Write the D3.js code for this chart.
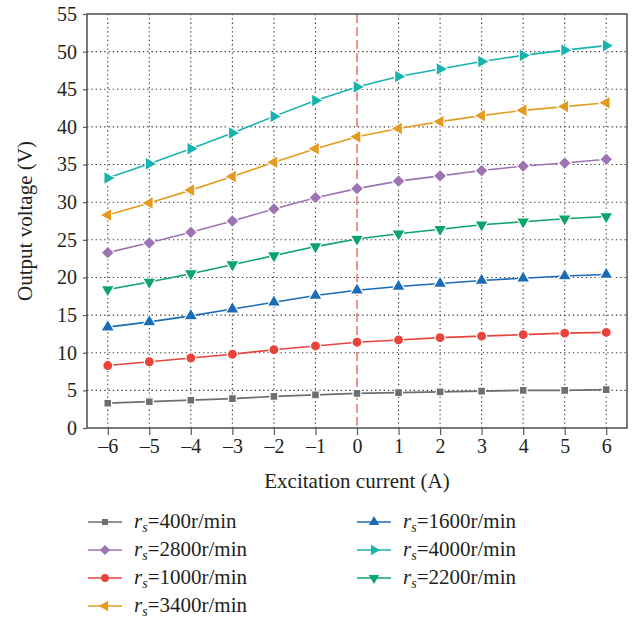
<!DOCTYPE html>
<html>
  <meta charset="utf-8" />
  <head>
    <script src="https://cdnjs.cloudflare.com/ajax/libs/d3/7.8.5/d3.min.js"></script>
    <style>
      body { margin: 0; background: #fff; }
    </style>
  </head>
  <body>
    <script>
    const current = [-6, -5, -4, -3, -2, -1, 0, 1, 2, 3, 4, 5, 6];
    const yTicks = [0, 5, 10, 15, 20, 25, 30, 35, 40, 45, 50, 55];

    const v400 = [3.3, 3.5, 3.7, 3.9, 4.2, 4.4, 4.6, 4.7, 4.8, 4.9, 5.0, 5.0, 5.1];
    const v1000 = [8.3, 8.8, 9.3, 9.8, 10.4, 10.9, 11.4, 11.7, 12.0, 12.2, 12.4, 12.6, 12.7];
    const v1600 = [13.4, 14.1, 14.9, 15.8, 16.7, 17.6, 18.3, 18.8, 19.2, 19.6, 19.9, 20.2, 20.4];
    const v2200 = [18.4, 19.4, 20.5, 21.7, 22.9, 24.1, 25.1, 25.8, 26.4, 27.0, 27.4, 27.8, 28.1];
    const v2800 = [23.3, 24.6, 26.0, 27.5, 29.1, 30.6, 31.8, 32.8, 33.5, 34.2, 34.8, 35.2, 35.7];
    const v3400 = [28.3, 29.9, 31.6, 33.4, 35.3, 37.1, 38.7, 39.8, 40.7, 41.5, 42.2, 42.7, 43.2];
    const v4000 = [33.2, 35.1, 37.1, 39.2, 41.4, 43.5, 45.3, 46.7, 47.7, 48.7, 49.5, 50.2, 50.8];

    // legend order follows the picture (two columns)
    const series = [
      { speed: "400", values: v400, color: "#6d6e71", symbol: d3.symbolSquare, size: 60, rot: 0 },
      { speed: "2800", values: v2800, color: "#9d73b2", symbol: d3.symbolDiamond2, size: 110, rot: 0 },
      { speed: "1000", values: v1000, color: "#e9433c", symbol: d3.symbolCircle, size: 80, rot: 0 },
      { speed: "3400", values: v3400, color: "#e49c20", symbol: d3.symbolTriangle, size: 80, rot: -90 },
      { speed: "1600", values: v1600, color: "#1b6cb7", symbol: d3.symbolTriangle, size: 80, rot: 0 },
      { speed: "4000", values: v4000, color: "#18b3ad", symbol: d3.symbolTriangle, size: 80, rot: 90 },
      { speed: "2200", values: v2200, color: "#0ca46b", symbol: d3.symbolTriangle, size: 80, rot: 180 },
    ];

    const FONT = "Liberation Serif";
    const width = 635, height = 620;
    const plot = { left: 87, right: 627, top: 14, bottom: 428 };

    const svg = d3.select("body").append("svg")
      .attr("width", width)
      .attr("height", height)
      .attr("font-family", FONT);

    const x = d3.scaleLinear().domain([-6.5, 6.5]).range([plot.left, plot.right]);
    const y = d3.scaleLinear().domain([0, 55]).range([plot.bottom, plot.top]);

    // grid
    const grid = svg.append("g");
    grid.selectAll("line.h")
      .data(yTicks.filter(d => d > 0 && d < 55))
      .enter().append("line")
      .attr("x1", plot.left).attr("x2", plot.right)
      .attr("y1", d => y(d)).attr("y2", d => y(d))
      .attr("stroke", "#333").attr("stroke-width", 1.1)
      .attr("stroke-dasharray", "1.3,3");
    grid.selectAll("line.v")
      .data(current.filter(d => d !== 0))
      .enter().append("line")
      .attr("x1", d => x(d)).attr("x2", d => x(d))
      .attr("y1", plot.top).attr("y2", plot.bottom)
      .attr("stroke", "#333").attr("stroke-width", 1.1)
      .attr("stroke-dasharray", "1.3,3");

    // zero line
    svg.append("line")
      .attr("x1", x(0)).attr("x2", x(0))
      .attr("y1", plot.top).attr("y2", plot.bottom)
      .attr("stroke", "#e0533b").attr("stroke-width", 1.2)
      .attr("stroke-dasharray", "9,4");

    // frame
    svg.append("rect")
      .attr("x", plot.left).attr("y", plot.top)
      .attr("width", plot.right - plot.left).attr("height", plot.bottom - plot.top)
      .attr("fill", "none").attr("stroke", "#58595b").attr("stroke-width", 1.6);

    // axes
    const xAxis = svg.append("g")
      .attr("transform", `translate(0,${plot.bottom})`)
      .call(d3.axisBottom(x).tickValues(current).tickSize(7).tickPadding(4)
        .tickFormat(d => d < 0 ? "\u2013" + Math.abs(d) : d));
    const yAxis = svg.append("g")
      .attr("transform", `translate(${plot.left},0)`)
      .call(d3.axisLeft(y).tickValues(yTicks).tickSize(5).tickPadding(5));
    [xAxis, yAxis].forEach(a => {
      a.attr("font-family", FONT).attr("font-size", 20);
      a.select(".domain").remove();
      a.selectAll(".tick line").attr("stroke", "#58595b").attr("stroke-width", 1.2);
      a.selectAll(".tick text").attr("fill", "#231f20");
    });
    yAxis.selectAll(".tick line").attr("x2", 0).attr("x1", -4);

    svg.append("text")
      .attr("x", (plot.left + plot.right) / 2).attr("y", 488)
      .attr("text-anchor", "middle").attr("font-size", 21).attr("fill", "#231f20")
      .text("Excitation current (A)");
    svg.append("text")
      .attr("transform", `translate(32,${(plot.top + plot.bottom) / 2}) rotate(-90)`)
      .attr("text-anchor", "middle").attr("font-size", 21).attr("fill", "#231f20")
      .text("Output voltage (V)");

    // lines and markers
    const line = d3.line().x((d, i) => x(current[i])).y(d => y(d));
    const marks = svg.append("g");
    const drawOrder = [0, 2, 4, 6, 1, 3, 5];
    drawOrder.forEach(k => {
      const s = series[k];
      const g = marks.append("g");
      g.append("path")
        .attr("d", line(s.values))
        .attr("fill", "none").attr("stroke", s.color).attr("stroke-width", 1.6);
      g.selectAll("path.m")
        .data(s.values)
        .enter().append("path")
        .attr("d", d3.symbol().type(s.symbol).size(s.size))
        .attr("transform", (d, i) => `translate(${x(current[i])},${y(d)}) rotate(${s.rot})`)
        .attr("fill", s.color).attr("stroke", "#fff").attr("stroke-width", 1.2);
    });

    // legend
    const legend = svg.append("g");
    series.forEach((s, i) => {
      const col = i < 4 ? 0 : 1;
      const row = i < 4 ? i : i - 4;
      const lx = col === 0 ? 88 : 357;
      const ly = 522 + row * 28;
      const g = legend.append("g").attr("transform", `translate(${lx},${ly})`);
      g.append("line").attr("x1", 0).attr("x2", 34).attr("y1", 0).attr("y2", 0)
        .attr("stroke", s.color).attr("stroke-width", 1.6);
      g.append("path")
        .attr("d", d3.symbol().type(s.symbol).size(s.size * 0.6))
        .attr("transform", `translate(17,0) rotate(${s.rot})`)
        .attr("fill", s.color);
      const t = g.append("text").attr("x", 46).attr("y", 6).attr("font-size", 21).attr("fill", "#231f20");
      t.append("tspan").attr("font-style", "italic").text("r");
      t.append("tspan").attr("font-style", "italic").attr("font-size", 14).attr("dy", 4).text("s");
      t.append("tspan").attr("dy", -4).text("=" + s.speed + "r/min");
    });
</script>
</body>
</html>
